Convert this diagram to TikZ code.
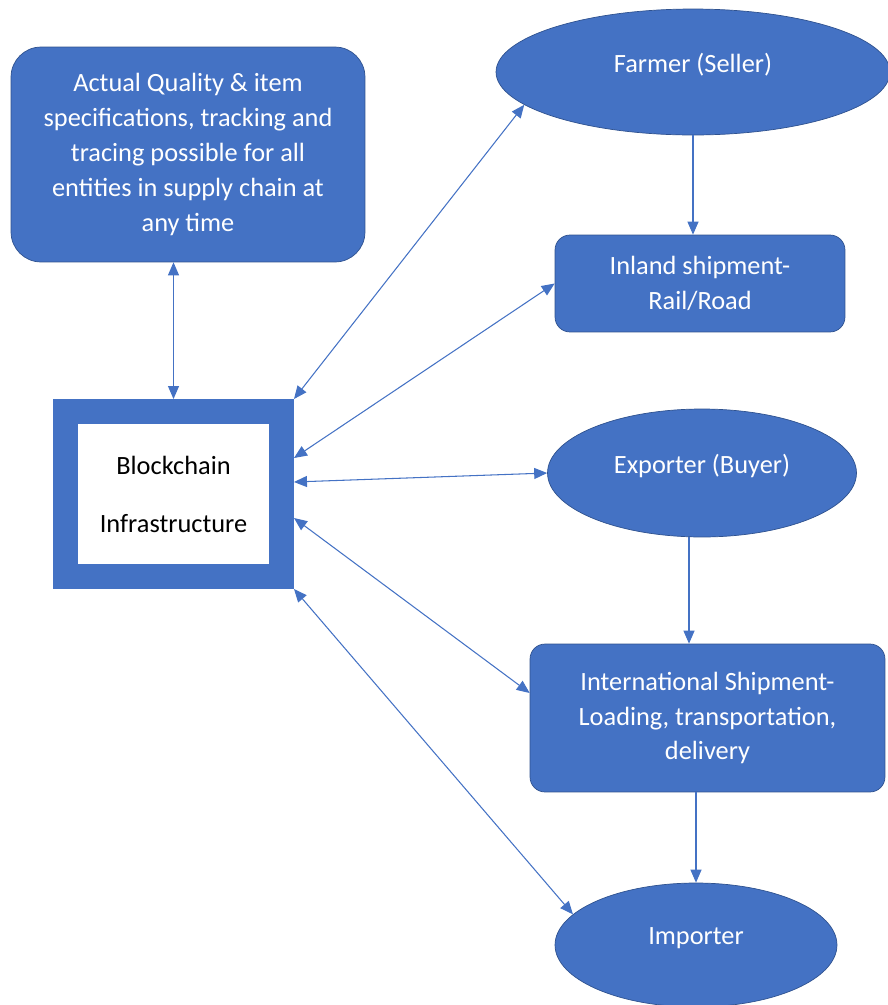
\documentclass[tikz,border=0pt]{standalone}
\usepackage{fontspec}
\setmainfont{Carlito}
\usetikzlibrary{shapes,arrows.meta,positioning,calc}
\definecolor{boxblue}{HTML}{4472C4}
\definecolor{edgeblue}{HTML}{2F528F}

\begin{document}
\begin{tikzpicture}[
    x=0.02cm, y=-0.02cm,
    font=\fontsize{15}{19.9}\selectfont,
    block/.style={rectangle, draw=edgeblue, fill=boxblue, text=white, align=center, rounded corners=0.3cm, inner sep=0pt},
    oval/.style={ellipse, draw=edgeblue, fill=boxblue, text=white, inner sep=0pt, text depth=0.35cm},
    ledger/.style={rectangle, draw=boxblue, line width=0.5cm, fill=white, align=center, minimum width=4.32cm, minimum height=3.3cm},
    link/.style={draw=boxblue, line width=0.6pt, <->, >={Triangle[length=0.26cm,width=0.22cm]}},
    flow/.style={draw=boxblue, line width=0.6pt, ->, >={Triangle[length=0.26cm,width=0.22cm]}}
]
\useasboundingbox (0,0) rectangle (887,1005);

% Quality and tracing box
\node [block, rounded corners=0.6cm, minimum width=7.08cm, minimum height=4.3cm] (quality) at (188,154.5) {Actual Quality \& item\\specifications, tracking and\\tracing possible for all\\entities in supply chain at\\any time};

% Blockchain
\node [ledger] (chain) at (173.5,494) {Blockchain\\[0.46cm]Infrastructure};

% Supply chain entities
\node [oval, minimum width=7.88cm, minimum height=2.52cm] (farmer) at (693,72) {Farmer (Seller)};
\node [block, minimum width=5.8cm, minimum height=1.94cm] (inland) at (700,283.5) {Inland shipment-\\Rail/Road};
\node [oval, minimum width=6.18cm, minimum height=2.56cm] (exporter) at (702,473) {Exporter (Buyer)};
\node [block, minimum width=7.1cm, minimum height=2.96cm] (intl) at (707.5,718) {International Shipment-\\Loading, transportation,\\delivery};
\node [oval, minimum width=5.64cm, minimum height=2.48cm] (importer) at (696,945) {Importer};

% Links to the blockchain
\draw [link] (chain.north) -- (chain.north |- quality.south);
\draw [link] (chain.north east) -- (farmer.191);
\draw [link] ([yshift=0.72cm]chain.east) -- (inland.west);
\draw [link] ([yshift=0.24cm]chain.east) -- (exporter.west);
\draw [link] ([yshift=-0.48cm]chain.east) -- ([yshift=0.5cm]intl.west);
\draw [link] (chain.south east) -- (importer.166);

% Flow of goods
\draw [flow] (farmer.south) -- (farmer.south |- inland.north);
\draw [flow] ([xshift=-0.26cm]exporter.south) -- ([xshift=-0.26cm]exporter.south |- intl.north);
\draw [flow] (importer.north |- intl.south) -- (importer.north);

\end{tikzpicture}
\end{document}
